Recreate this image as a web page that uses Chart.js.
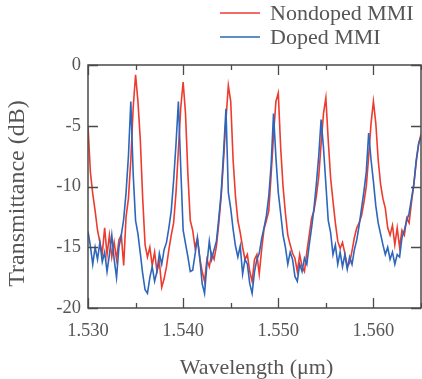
<!DOCTYPE html>
<html>
<head>
<meta charset="utf-8">
<script src="https://cdn.jsdelivr.net/npm/chart.js@4.4.1/dist/chart.umd.min.js"></script>
<style>
  html, body { margin: 0; padding: 0; background: #fff; }
  #wrap { width: 422px; height: 379px; }
</style>
</head>
<body>
<div id="wrap"><canvas id="chart" width="422" height="379"></canvas></div>
<script>
// --- data (0.25 nm grid) ---
const wavelengths = [
  1.53000,1.53025,1.53050,1.53075,1.53100,1.53125,1.53150,1.53175,1.53200,1.53225,1.53250,1.53275,1.53300,1.53325,1.53350,1.53375,1.53400,1.53425,1.53450,1.53475,
  1.53500,1.53525,1.53550,1.53575,1.53600,1.53625,1.53650,1.53675,1.53700,1.53725,1.53750,1.53775,1.53800,1.53825,1.53850,1.53875,1.53900,1.53925,1.53950,1.53975,
  1.54000,1.54025,1.54050,1.54075,1.54100,1.54125,1.54150,1.54175,1.54200,1.54225,1.54250,1.54275,1.54300,1.54325,1.54350,1.54375,1.54400,1.54425,1.54450,1.54475,
  1.54500,1.54525,1.54550,1.54575,1.54600,1.54625,1.54650,1.54675,1.54700,1.54725,1.54750,1.54775,1.54800,1.54825,1.54850,1.54875,1.54900,1.54925,1.54950,1.54975,
  1.55000,1.55025,1.55050,1.55075,1.55100,1.55125,1.55150,1.55175,1.55200,1.55225,1.55250,1.55275,1.55300,1.55325,1.55350,1.55375,1.55400,1.55425,1.55450,1.55475,
  1.55500,1.55525,1.55550,1.55575,1.55600,1.55625,1.55650,1.55675,1.55700,1.55725,1.55750,1.55775,1.55800,1.55825,1.55850,1.55875,1.55900,1.55925,1.55950,1.55975,
  1.56000,1.56025,1.56050,1.56075,1.56100,1.56125,1.56150,1.56175,1.56200,1.56225,1.56250,1.56275,1.56300,1.56325,1.56350,1.56375,1.56400,1.56425,1.56450,1.56475,
  1.56500
];

const nondopedMMI = [
  -5.0,-8.8,-10.6,-12.0,-13.6,-14.6,-15.5,-13.4,-15.6,-14.0,-15.8,-14.6,-16.0,-14.4,-14.0,-16.5,-12.5,-11.0,-7.8,-3.5,
  -0.8,-3.0,-6.2,-11.0,-14.8,-15.8,-15.0,-16.5,-15.4,-17.0,-16.2,-18.3,-17.6,-16.6,-15.2,-14.0,-13.0,-10.5,-7.0,-3.5,
  -1.4,-4.0,-9.0,-12.8,-13.6,-15.0,-14.3,-15.9,-17.0,-17.8,-16.0,-16.6,-15.5,-16.0,-14.9,-13.0,-10.8,-7.8,-4.5,-1.7,
  -3.0,-7.8,-10.8,-12.8,-13.8,-15.0,-16.0,-15.6,-17.0,-17.8,-16.0,-15.6,-17.2,-15.2,-13.5,-12.8,-12.0,-9.0,-5.8,-3.0,
  -2.3,-6.8,-10.0,-12.2,-14.0,-14.8,-15.5,-15.9,-17.0,-15.6,-16.6,-17.0,-15.4,-14.0,-12.6,-12.0,-10.8,-9.2,-6.5,-4.0,
  -2.7,-6.2,-9.3,-11.2,-13.0,-14.5,-15.1,-14.6,-15.5,-16.6,-16.3,-15.3,-14.2,-13.4,-13.0,-12.4,-11.3,-10.0,-7.5,-4.8,
  -3.0,-4.8,-7.8,-9.8,-11.0,-11.8,-13.4,-14.0,-13.2,-14.8,-13.4,-15.0,-13.6,-14.0,-12.6,-13.0,-11.3,-9.8,-8.0,-6.5,
  -5.7
];

const dopedMMI = [
  -13.7,-14.9,-16.4,-15.0,-16.0,-14.6,-16.2,-15.4,-17.0,-15.6,-14.0,-16.0,-17.5,-15.0,-14.0,-12.7,-10.5,-7.5,-3.0,-9.0,
  -12.8,-13.9,-15.5,-17.2,-18.5,-18.8,-17.5,-16.6,-17.8,-17.0,-15.5,-16.4,-15.2,-14.6,-13.4,-12.0,-9.5,-6.5,-3.0,-8.5,
  -13.6,-14.7,-15.8,-17.0,-16.9,-15.6,-14.2,-15.9,-18.0,-18.8,-16.4,-14.5,-16.0,-15.2,-14.5,-12.6,-10.5,-7.2,-3.6,-10.5,
  -11.8,-13.5,-14.9,-15.8,-14.9,-17.2,-16.0,-16.4,-18.0,-18.8,-17.0,-16.0,-15.5,-14.3,-13.4,-12.4,-10.8,-8.2,-4.0,-7.6,
  -10.5,-12.2,-14.0,-15.0,-16.4,-15.4,-16.0,-17.4,-17.8,-16.4,-17.0,-15.9,-16.4,-14.8,-13.4,-11.8,-9.8,-7.5,-4.5,-6.8,
  -9.8,-12.8,-13.8,-15.6,-14.8,-16.4,-15.4,-16.6,-15.6,-16.8,-15.8,-16.4,-15.2,-14.4,-13.2,-11.8,-10.4,-8.8,-5.6,-7.8,
  -9.6,-11.6,-13.0,-13.9,-14.8,-15.6,-15.0,-16.0,-15.4,-16.4,-15.6,-15.8,-14.2,-13.6,-12.8,-12.2,-11.0,-9.8,-7.8,-6.5,
  -5.9
];

const xMajorTicks = [1.530, 1.540, 1.550, 1.560];
const xMinorTicks = [1.535, 1.545, 1.555, 1.565];
const yTicks = [0, -5, -10, -15, -20];
const xTitle = 'Wavelength (μm)';
const yTitle = 'Transmittance (dB)';

const SERIF = "'Liberation Serif', 'Times New Roman', serif";
const TEXT = '#555';
const FRAME = '#4a4a4a';

const isMajorX = v => xMajorTicks.some(t => Math.abs(t - v) < 1e-6);

// box + inward ticks on all four sides
const frameTicks = {
  id: 'frameTicks',
  afterDatasetsDraw(chart) {
    const { ctx, chartArea: a, scales } = chart;
    ctx.save();
    ctx.strokeStyle = FRAME;
    ctx.lineWidth = 1.5;
    ctx.strokeRect(a.left, a.top, a.right - a.left, a.bottom - a.top);
    ctx.lineWidth = 1.3;
    ctx.beginPath();
    scales.x.ticks.forEach(t => {
      const px = Math.round(scales.x.getPixelForValue(t.value)) + 0.5;
      const len = isMajorX(t.value) ? 10 : 5;
      ctx.moveTo(px, a.bottom); ctx.lineTo(px, a.bottom - len);
      ctx.moveTo(px, a.top); ctx.lineTo(px, a.top + len);
    });
    scales.y.ticks.forEach(t => {
      const py = Math.round(scales.y.getPixelForValue(t.value)) + 0.5;
      ctx.moveTo(a.left, py); ctx.lineTo(a.left + 10, py);
      ctx.moveTo(a.right, py); ctx.lineTo(a.right - 10, py);
    });
    ctx.stroke();
    ctx.restore();
  }
};

// axis titles, placed a little off-centre like the original figure
const axisTitles = {
  id: 'axisTitles',
  afterDraw(chart) {
    const { ctx, chartArea: a } = chart;
    ctx.save();
    ctx.fillStyle = TEXT;
    ctx.textAlign = 'center';
    ctx.textBaseline = 'middle';
    ctx.font = '22px ' + SERIF;
    ctx.fillText(xTitle, (a.left + a.right) / 2 + 2, 368);
    ctx.font = '24px ' + SERIF;
    ctx.translate(18, (a.top + a.bottom) / 2 + 7);
    ctx.rotate(-Math.PI / 2);
    ctx.fillText(yTitle, 0, 0);
    ctx.restore();
  }
};

// two-row legend in the top right corner
const cornerLegend = {
  id: 'cornerLegend',
  afterDraw(chart) {
    const { ctx } = chart;
    ctx.save();
    ctx.font = '22px ' + SERIF;
    ctx.textBaseline = 'middle';
    ctx.textAlign = 'left';
    chart.data.datasets.forEach((ds, i) => {
      const y = 13 + i * 24;
      ctx.strokeStyle = ds.borderColor;
      ctx.lineWidth = 1.6;
      ctx.beginPath();
      ctx.moveTo(220, y); ctx.lineTo(260, y);
      ctx.stroke();
      ctx.fillStyle = TEXT;
      ctx.fillText(ds.label, 270, y + 1);
    });
    ctx.restore();
  }
};

const ctx = document.getElementById('chart').getContext('2d');

new Chart(ctx, {
  type: 'line',
  data: {
    datasets: [
      {
        label: 'Nondoped MMI',
        data: wavelengths.map((x, i) => ({ x, y: nondopedMMI[i] })),
        borderColor: '#ee3b2f',
        borderWidth: 1.6,
        pointRadius: 0,
        tension: 0,
        order: 1
      },
      {
        label: 'Doped MMI',
        data: wavelengths.map((x, i) => ({ x, y: dopedMMI[i] })),
        borderColor: '#2d66bb',
        borderWidth: 1.6,
        pointRadius: 0,
        tension: 0,
        order: 0
      }
    ]
  },
  options: {
    responsive: false,
    animation: false,
    layout: { padding: { top: 65, right: 1, bottom: 0, left: 0 } },
    plugins: { legend: { display: false }, tooltip: { enabled: false } },
    scales: {
      x: {
        type: 'linear',
        min: 1.530,
        max: 1.565,
        afterBuildTicks: s => {
          s.ticks = [...xMajorTicks, ...xMinorTicks].sort((a, b) => a - b).map(v => ({ value: v }));
        },
        // fixed height, and no extra side padding for the (empty) last label
        afterFit: s => { s.height = 71; s.paddingLeft = 0; s.paddingRight = 0; },
        grid: { display: false, drawTicks: false },
        border: { display: false },
        ticks: {
          autoSkip: false,
          maxRotation: 0,
          padding: 12,
          color: TEXT,
          font: { family: SERIF, size: 18.5 },
          callback: v => isMajorX(v) ? v.toFixed(3) : ''
        }
      },
      y: {
        min: -20,
        max: 0,
        afterBuildTicks: s => { s.ticks = yTicks.map(v => ({ value: v })); },
        afterFit: s => { s.width = 88; },
        grid: { display: false, drawTicks: false },
        border: { display: false },
        ticks: {
          padding: 7,
          color: TEXT,
          font: { family: SERIF, size: 18.5 },
          callback: v => String(v)
        }
      }
    }
  },
  plugins: [frameTicks, axisTitles, cornerLegend]
});
</script>
</body>
</html>
